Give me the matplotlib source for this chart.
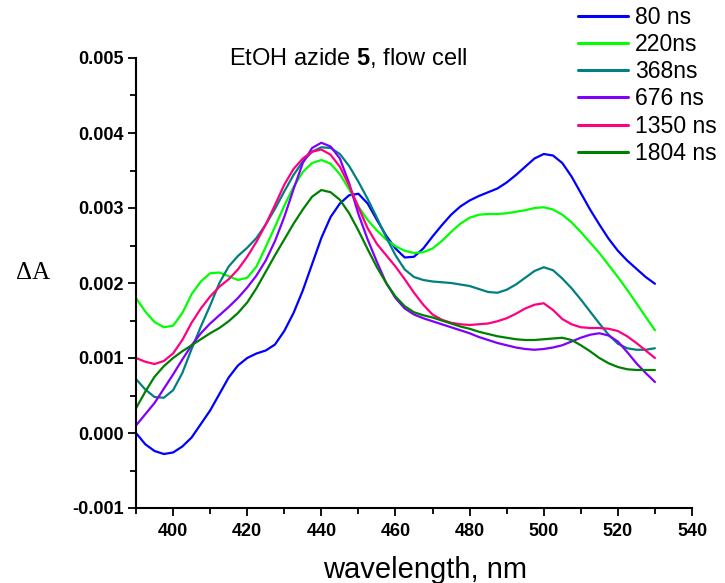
import matplotlib
matplotlib.use("Agg")
import matplotlib.pyplot as plt
from matplotlib.ticker import MultipleLocator, FuncFormatter

plt.rcParams['font.family'] = ['Liberation Sans', 'DejaVu Sans']
plt.rcParams['axes.unicode_minus'] = False
plt.rcParams['mathtext.fontset'] = 'custom'
plt.rcParams['mathtext.rm'] = 'Liberation Sans'
plt.rcParams['mathtext.bf'] = 'Liberation Sans:bold'

wavelength = [390, 392.5, 395, 397.5, 400, 402.5, 405, 407.5, 410, 412.5, 415, 417.5,
              420, 422.5, 425, 427.5, 430, 432.5, 435, 437.5, 440, 442.5, 445, 447.5,
              450, 452.5, 455, 457.5, 460, 462.5, 465, 467.5, 470, 472.5, 475, 477.5,
              480, 482.5, 485, 487.5, 490, 492.5, 495, 497.5, 500, 502.5, 505, 507.5,
              510, 512.5, 515, 517.5, 520, 522.5, 525, 527.5, 530]

labels = ["80 ns", "220ns", "368ns", "676 ns", "1350 ns", "1804 ns"]
colors = ["#0000FF", "#00FF00", "#008080", "#8000FF", "#FF0080", "#008000"]

s80 = [0.00000, -0.00015, -0.00024, -0.00028, -0.00026, -0.00018, -0.00006, 0.00012,
       0.00030, 0.00052, 0.00074, 0.00090, 0.00100, 0.00106, 0.00110, 0.00118,
       0.00136, 0.00160, 0.00190, 0.00225, 0.00260, 0.00288, 0.00306, 0.00317,
       0.00319, 0.00306, 0.00284, 0.00263, 0.00246, 0.00234, 0.00235, 0.00246,
       0.00262, 0.00277, 0.00291, 0.00302, 0.00310, 0.00316, 0.00321, 0.00326,
       0.00334, 0.00344, 0.00355, 0.00366, 0.00372, 0.00370, 0.00360, 0.00342,
       0.00320, 0.00298, 0.00278, 0.00259, 0.00243, 0.00230, 0.00219, 0.00208, 0.00199]
s220 = [0.00180, 0.00162, 0.00148, 0.00141, 0.00143, 0.00160, 0.00185, 0.00202,
        0.00213, 0.00214, 0.00209, 0.00204, 0.00207, 0.00222, 0.00248, 0.00275,
        0.00303, 0.00328, 0.00348, 0.00360, 0.00364, 0.00359, 0.00345, 0.00325,
        0.00302, 0.00284, 0.00270, 0.00258, 0.00249, 0.00243, 0.00240, 0.00241,
        0.00246, 0.00256, 0.00268, 0.00279, 0.00287, 0.00291, 0.00292, 0.00292,
        0.00293, 0.00295, 0.00297, 0.00300, 0.00301, 0.00298, 0.00291, 0.00281,
        0.00268, 0.00254, 0.00240, 0.00224, 0.00208, 0.00191, 0.00173, 0.00155, 0.00137]
s368 = [0.00072, 0.00058, 0.00048, 0.00047, 0.00057, 0.00080, 0.00112, 0.00142,
        0.00170, 0.00200, 0.00222, 0.00236, 0.00247, 0.00260, 0.00278, 0.00299,
        0.00322, 0.00344, 0.00362, 0.00375, 0.00381, 0.00380, 0.00372, 0.00356,
        0.00335, 0.00312, 0.00287, 0.00261, 0.00237, 0.00218, 0.00208, 0.00204,
        0.00202, 0.00201, 0.00200, 0.00198, 0.00196, 0.00192, 0.00188, 0.00187,
        0.00191, 0.00198, 0.00207, 0.00216, 0.00221, 0.00217, 0.00206, 0.00193,
        0.00178, 0.00162, 0.00146, 0.00131, 0.00119, 0.00113, 0.00111, 0.00111, 0.00113]
s676 = [0.00010, 0.00025, 0.00040, 0.00059, 0.00078, 0.00098, 0.00117, 0.00133,
        0.00146, 0.00157, 0.00168, 0.00180, 0.00194, 0.00210, 0.00230, 0.00256,
        0.00288, 0.00325, 0.00360, 0.00380, 0.00387, 0.00382, 0.00366, 0.00333,
        0.00292, 0.00258, 0.00228, 0.00200, 0.00180, 0.00166, 0.00158, 0.00153,
        0.00149, 0.00145, 0.00141, 0.00137, 0.00133, 0.00128, 0.00124, 0.00120,
        0.00117, 0.00114, 0.00112, 0.00111, 0.00112, 0.00114, 0.00117, 0.00122,
        0.00127, 0.00131, 0.00133, 0.00130, 0.00122, 0.00108, 0.00093, 0.00080, 0.00068]
s1350 = [0.00100, 0.00095, 0.00092, 0.00096, 0.00106, 0.00124, 0.00147, 0.00166,
         0.00182, 0.00195, 0.00205, 0.00218, 0.00235, 0.00255, 0.00278, 0.00304,
         0.00331, 0.00352, 0.00366, 0.00375, 0.00378, 0.00371, 0.00355, 0.00330,
         0.00301, 0.00273, 0.00252, 0.00237, 0.00222, 0.00205, 0.00187, 0.00171,
         0.00158, 0.00151, 0.00147, 0.00145, 0.00144, 0.00145, 0.00146, 0.00149,
         0.00153, 0.00159, 0.00166, 0.00171, 0.00173, 0.00164, 0.00152, 0.00145,
         0.00141, 0.00140, 0.00140, 0.00139, 0.00136, 0.00129, 0.00120, 0.00110, 0.00100]
s1804 = [0.00033, 0.00055, 0.00075, 0.00089, 0.00100, 0.00109, 0.00117, 0.00125,
         0.00133, 0.00140, 0.00149, 0.00160, 0.00174, 0.00193, 0.00215, 0.00237,
         0.00258, 0.00279, 0.00298, 0.00315, 0.00324, 0.00321, 0.00311, 0.00293,
         0.00270, 0.00245, 0.00221, 0.00200, 0.00182, 0.00169, 0.00161, 0.00157,
         0.00154, 0.00150, 0.00146, 0.00142, 0.00139, 0.00135, 0.00132, 0.00129,
         0.00127, 0.00125, 0.00124, 0.00124, 0.00125, 0.00126, 0.00127, 0.00124,
         0.00117, 0.00109, 0.00100, 0.00093, 0.00088, 0.00085, 0.00084, 0.00084, 0.00084]

series = [s80, s220, s368, s676, s1350, s1804]

fig = plt.figure(figsize=(7.25, 5.83), dpi=100)
ax = fig.add_axes([136/725, 75/583, 556/725, 450/583])

for vals, lab, col in zip(series, labels, colors):
    ax.plot(wavelength, vals, color=col, lw=1.6, label=lab,
            solid_capstyle='round', solid_joinstyle='round')

ax.set_xlim(390, 540)
ax.set_ylim(-0.001, 0.005)
ax.xaxis.set_major_locator(MultipleLocator(20))
ax.xaxis.set_minor_locator(MultipleLocator(10))
ax.yaxis.set_major_locator(MultipleLocator(0.001))
ax.yaxis.set_minor_locator(MultipleLocator(0.0005))
ax.yaxis.set_major_formatter(FuncFormatter(lambda v, p: f"{v:.3f}" if abs(v) > 1e-9 else "0.000"))
ax.xaxis.set_major_formatter(FuncFormatter(lambda v, p: "" if v < 399 else f"{v:.0f}"))

for s in ['top', 'right']:
    ax.spines[s].set_visible(False)
for s in ['left', 'bottom']:
    ax.spines[s].set_linewidth(1.5)

ax.tick_params(which='major', direction='out', length=6, width=1.3, labelsize=13)
ax.tick_params(which='minor', direction='out', length=4, width=1.3)
ax.tick_params(axis='x', which='major', pad=5)
ax.tick_params(axis='y', which='major', pad=3)
for lab in ax.get_xticklabels() + ax.get_yticklabels():
    lab.set_fontweight('bold')

fig.text(348/725, 1 - 65/583, r"EtOH azide $\mathbf{5}$, flow cell", ha='center',
         va='baseline', fontsize=17)
fig.text(425/725, 1 - 578/583, "wavelength, nm", ha='center', va='baseline', fontsize=21)
fig.text(33/725, 1 - 273/583, "ΔA", ha='center', va='center', fontsize=18,
         family=['Liberation Serif', 'DejaVu Serif'])

leg = ax.legend(loc='upper left', bbox_to_anchor=(578/725, 1 - 6/583),
                bbox_transform=fig.transFigure, frameon=False, fontsize=16.6,
                handlelength=2.17, handletextpad=0.3, labelspacing=0.18,
                borderpad=0, borderaxespad=0)
for line in leg.get_lines():
    line.set_linewidth(2.2)

fig.savefig("out.png", dpi=100)
